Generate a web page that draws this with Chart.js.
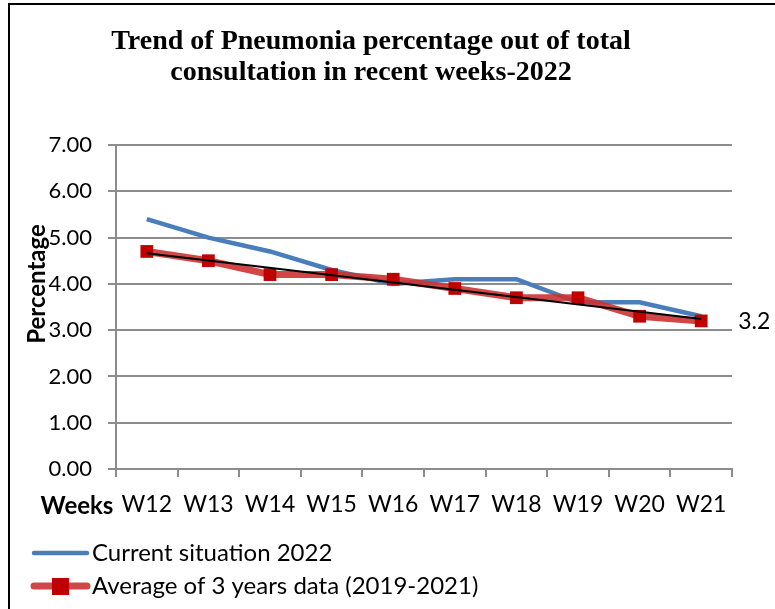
<!DOCTYPE html>
<html>
<head>
<meta charset="utf-8">
<script src="https://cdn.jsdelivr.net/npm/chart.js@4"></script>
<style>
  body { margin: 0; background: #fff; }
  #wrap { width: 775px; height: 609px; }
</style>
</head>
<body>
<div id="wrap"><canvas id="pneu-chart" width="775" height="609"></canvas></div>
<script>
const weeks = ['W12','W13','W14','W15','W16','W17','W18','W19','W20','W21'];
const current2022 = [5.4, 5.0, 4.7, 4.3, 4.0, 4.1, 4.1, 3.6, 3.6, 3.3];
const avg3years = [4.7, 4.5, 4.2, 4.2, 4.1, 3.9, 3.7, 3.7, 3.3, 3.2];
// linear trend of the 3-year average, read at the two ends
const trendLine = [4.66, null, null, null, null, null, null, null, null, 3.24];
const titleLines = ['Trend of Pneumonia percentage out of total', 'consultation in recent weeks-2022'];
const seriesNames = ['Current situation 2022', 'Average of 3 years data (2019-2021)'];

const blue = '#4a7ebb';
const redLine = 'rgba(204,50,50,0.9)';
const redMark = '#c00000';
const gridGray = '#8c8c8c';
const tickFont = "Lato, 'DejaVu Sans', sans-serif";

const extras = {
  id: 'extras',
  afterDraw(chart) {
    const ctx = chart.ctx;
    ctx.save();
    // frame
    ctx.strokeStyle = '#000';
    ctx.lineWidth = 2;
    ctx.beginPath();
    ctx.moveTo(9, 609);
    ctx.lineTo(9, 4);
    ctx.lineTo(775, 4);
    ctx.stroke();

    // title
    ctx.fillStyle = '#000';
    ctx.textAlign = 'center';
    ctx.textBaseline = 'middle';
    ctx.font = "bold 28px 'Liberation Serif', serif";
    ctx.fillText(titleLines[0], 371, 42);
    ctx.fillText(titleLines[1], 371, 73);

    // y title
    ctx.save();
    ctx.translate(37, 284);
    ctx.rotate(-Math.PI / 2);
    ctx.font = 'bold 24px ' + tickFont;
    ctx.fillText('Percentage', 0, 0);
    ctx.restore();

    // x title beside the tick labels
    ctx.font = 'bold 24px ' + tickFont;
    ctx.textAlign = 'center';
    ctx.fillText('Weeks', 77, 506);

    // label on last average point
    const meta = chart.getDatasetMeta(1);
    const last = meta.data[meta.data.length - 1];
    ctx.font = '23px ' + tickFont;
    ctx.textAlign = 'left';
    ctx.fillText(avg3years[avg3years.length - 1].toFixed(1), last.x + 37, last.y + 1);

    // legend
    ctx.lineCap = 'round';
    ctx.strokeStyle = blue;
    ctx.lineWidth = 4.5;
    ctx.beginPath(); ctx.moveTo(34, 553); ctx.lineTo(87, 553); ctx.stroke();
    ctx.strokeStyle = redLine;
    ctx.lineWidth = 7;
    ctx.beginPath(); ctx.moveTo(34, 586); ctx.lineTo(87, 586); ctx.stroke();
    ctx.fillStyle = redMark;
    ctx.fillRect(52, 578, 17, 17);
    ctx.fillStyle = '#000';
    ctx.font = '24px ' + tickFont;
    ctx.fillText(seriesNames[0], 92, 553);
    ctx.fillText(seriesNames[1], 92, 586);
    ctx.restore();
  }
};

new Chart(document.querySelector('#pneu-chart'), {
  type: 'line',
  data: {
    labels: weeks,
    datasets: [
      {
        label: seriesNames[0],
        data: current2022,
        borderColor: blue,
        borderWidth: 4.5,
        pointRadius: 0,
        tension: 0,
        order: 3
      },
      {
        label: seriesNames[1],
        data: avg3years,
        borderColor: redLine,
        borderWidth: 7,
        pointStyle: 'rect',
        pointRadius: 9,
        pointBackgroundColor: redMark,
        pointBorderColor: redMark,
        pointBorderWidth: 0,
        tension: 0,
        order: 2
      },
      {
        label: 'trend',
        data: trendLine,
        borderColor: '#000',
        borderWidth: 2,
        pointRadius: 0,
        spanGaps: true,
        order: 1
      }
    ]
  },
  options: {
    responsive: false,
    maintainAspectRatio: false,
    animation: false,
    layout: { padding: { left: 16, right: 43, top: 145, bottom: 80 } },
    plugins: {
      legend: { display: false },
      title: { display: false },
      tooltip: { enabled: false }
    },
    scales: {
      x: {
        offset: true,
        grid: { offset: true, drawOnChartArea: false, color: gridGray, lineWidth: 2, tickLength: 8 },
        border: { color: gridGray, width: 2 },
        ticks: { color: '#000', font: { family: tickFont, size: 23 }, padding: 14, maxRotation: 0 },
        afterFit(scale) { scale.height = 60; }
      },
      y: {
        min: 0,
        max: 7,
        ticks: {
          stepSize: 1,
          color: '#000',
          font: { family: tickFont, size: 22 },
          padding: 16,
          callback: v => v.toFixed(2)
        },
        grid: { color: gridGray, lineWidth: 2, tickLength: 8 },
        border: { color: gridGray, width: 2 },
        afterFit(scale) { scale.width = 100; }
      }
    }
  },
  plugins: [extras]
});
</script>
</body>
</html>
